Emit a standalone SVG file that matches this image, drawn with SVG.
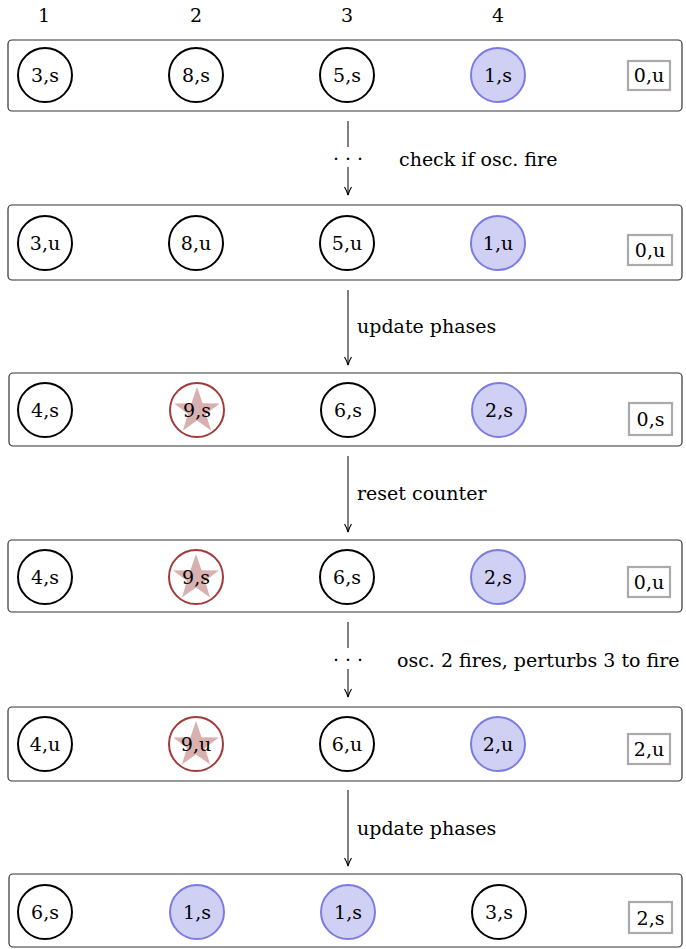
<svg xmlns="http://www.w3.org/2000/svg" width="686" height="949" viewBox="0 0 686 949">
<style>
text{font-family:"DejaVu Serif","Liberation Serif",serif;font-size:19px;fill:#000;}
.lbl{text-anchor:middle;dominant-baseline:central;}
.row{fill:#fff;stroke:#333;stroke-width:1.2;}
.osc{fill:#fff;stroke:#000;stroke-width:2;}
.fired{fill:#d0d0f5;stroke:#7b7be6;stroke-width:2;}
.fire{fill:#fff;stroke:#a33a3a;stroke-width:2;}
.star{fill:#d9b0b0;}
.cnt{fill:#fff;stroke:#aaa;stroke-width:2.2;}
.conn{stroke:#000;stroke-width:1;fill:none;}
</style>
<defs>
<marker id="ah" viewBox="0 0 10 10" refX="9" refY="5" markerWidth="10" markerHeight="10" markerUnits="userSpaceOnUse" orient="auto">
<path d="M1,1.5 Q5,4 9,5 Q5,6 1,8.5" fill="none" stroke="#000" stroke-width="1.1"/>
</marker>
<path id="st" d="M0,-24 L5.6,-7.7 L22.8,-7.4 L9,2.9 L14.1,19.4 L0,9.5 L-14.1,19.4 L-9,2.9 L-22.8,-7.4 L-5.6,-7.7 Z"/>
</defs>
<g id="headers">
<text class="lbl" x="44" y="15">1</text>
<text class="lbl" x="196" y="15">2</text>
<text class="lbl" x="347" y="15">3</text>
<text class="lbl" x="498" y="15">4</text>
</g>
<g id="row1">
<rect class="row" x="8" y="40" width="674" height="71" rx="4"/>
<circle class="osc" cx="45" cy="75" r="27"/><text class="lbl" x="45" y="75">3,s</text>
<circle class="osc" cx="196" cy="75" r="27"/><text class="lbl" x="196" y="75">8,s</text>
<circle class="osc" cx="347" cy="75" r="27"/><text class="lbl" x="347" y="75">5,s</text>
<circle class="fired" cx="498" cy="75" r="27"/><text class="lbl" x="498" y="75">1,s</text>
<rect class="cnt" x="628" y="61" width="42" height="29"/><text class="lbl" x="649" y="75">0,u</text>
</g>
<g id="row2">
<rect class="row" x="8" y="205" width="674" height="75" rx="4"/>
<circle class="osc" cx="45" cy="243" r="27"/><text class="lbl" x="45" y="243">3,u</text>
<circle class="osc" cx="196" cy="243" r="27"/><text class="lbl" x="196" y="243">8,u</text>
<circle class="osc" cx="347" cy="243" r="27"/><text class="lbl" x="347" y="243">5,u</text>
<circle class="fired" cx="498" cy="243" r="27"/><text class="lbl" x="498" y="243">1,u</text>
<rect class="cnt" x="628" y="235" width="44" height="30"/><text class="lbl" x="650" y="250">0,u</text>
</g>
<g id="row3">
<rect class="row" x="9" y="373" width="673" height="73" rx="4"/>
<circle class="osc" cx="45" cy="410" r="27"/><text class="lbl" x="45" y="410">4,s</text>
<circle class="fire" cx="197" cy="410" r="27"/><use href="#st" class="star" x="197" y="411"/><text class="lbl" x="197" y="410">9,s</text>
<circle class="osc" cx="348" cy="410" r="27"/><text class="lbl" x="348" y="410">6,s</text>
<circle class="fired" cx="499" cy="410" r="27"/><text class="lbl" x="499" y="410">2,s</text>
<rect class="cnt" x="629" y="403" width="43" height="32"/><text class="lbl" x="650.5" y="419">0,s</text>
</g>
<g id="row4">
<rect class="row" x="8" y="540" width="674" height="72" rx="4"/>
<circle class="osc" cx="45" cy="577" r="27"/><text class="lbl" x="45" y="577">4,s</text>
<circle class="fire" cx="196" cy="577" r="27"/><use href="#st" class="star" x="196" y="578"/><text class="lbl" x="196" y="577">9,s</text>
<circle class="osc" cx="347" cy="577" r="27"/><text class="lbl" x="347" y="577">6,s</text>
<circle class="fired" cx="498" cy="577" r="27"/><text class="lbl" x="498" y="577">2,s</text>
<rect class="cnt" x="628" y="567" width="42" height="30"/><text class="lbl" x="649" y="582">0,u</text>
</g>
<g id="row5">
<rect class="row" x="8" y="707" width="674" height="74" rx="4"/>
<circle class="osc" cx="45" cy="744" r="27"/><text class="lbl" x="45" y="744">4,u</text>
<circle class="fire" cx="196" cy="744" r="27"/><use href="#st" class="star" x="196" y="745"/><text class="lbl" x="196" y="744">9,u</text>
<circle class="osc" cx="347" cy="744" r="27"/><text class="lbl" x="347" y="744">6,u</text>
<circle class="fired" cx="498" cy="744" r="27"/><text class="lbl" x="498" y="744">2,u</text>
<rect class="cnt" x="628" y="734" width="42" height="30"/><text class="lbl" x="649" y="749">2,u</text>
</g>
<g id="row6">
<rect class="row" x="9" y="874" width="673" height="73" rx="4"/>
<circle class="osc" cx="45" cy="912" r="27"/><text class="lbl" x="45" y="912">6,s</text>
<circle class="fired" cx="197" cy="912" r="27"/><text class="lbl" x="197" y="912">1,s</text>
<circle class="fired" cx="348" cy="912" r="27"/><text class="lbl" x="348" y="912">1,s</text>
<circle class="osc" cx="499" cy="912" r="27"/><text class="lbl" x="499" y="912">3,s</text>
<rect class="cnt" x="629" y="902" width="43" height="31"/><text class="lbl" x="650.5" y="917.5">2,s</text>
</g>
<g id="connectors">
<path class="conn" d="M348,121 V147"/>
<path class="conn" d="M348,167 V195" marker-end="url(#ah)"/>
<text x="348" y="158" class="lbl">· · ·</text>
<text x="399" y="166">check if osc. fire</text>
<path class="conn" d="M348,290 V365" marker-end="url(#ah)"/>
<text x="357" y="333">update phases</text>
<path class="conn" d="M348,456 V532" marker-end="url(#ah)"/>
<text x="357" y="500">reset counter</text>
<path class="conn" d="M348,622 V648"/>
<path class="conn" d="M348,669 V697" marker-end="url(#ah)"/>
<text x="348" y="659" class="lbl">· · ·</text>
<text x="397" y="667">osc. 2 fires, perturbs 3 to fire</text>
<path class="conn" d="M348,790 V866" marker-end="url(#ah)"/>
<text x="357" y="835">update phases</text>
</g>
</svg>
